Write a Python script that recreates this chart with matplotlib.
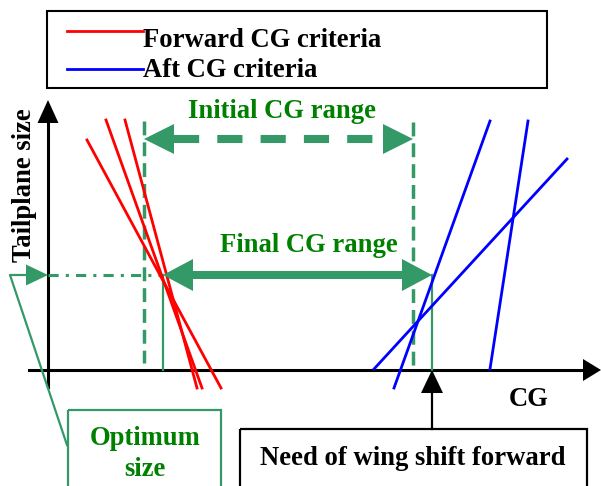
import matplotlib.pyplot as plt
from matplotlib.patches import Polygon, Rectangle

plt.rcParams['font.family'] = ['Liberation Serif', 'DejaVu Serif']
plt.rcParams['font.weight'] = 'bold'

# diagram geometry, in pixels of the 601x486 picture (y grows downwards)
fwd_lines = [((87, 140), (221, 388)),
             ((106, 120), (202, 388)),
             ((125, 120), (197, 388))]
aft_lines = [((374, 369), (567, 159)),
             ((394, 388), (490, 121)),
             ((490, 369), (528, 121))]
initial_range = (144, 413)
final_range = (163, 432)
initial_y = 139
final_y = 275
legend_labels = ['Forward CG criteria', 'Aft CG criteria']
legend_colors = ['#ff0000', '#0000ff']

green = '#339966'
tgreen = '#008000'
fs = 19.2

fig = plt.figure(figsize=(6.01, 4.86), dpi=100)
ax = fig.add_axes([0, 0, 1, 1])
ax.set_xlim(0, 601)
ax.set_ylim(486, 0)
ax.axis('off')


def head(tip, direction, length, half, color):
    x, y = tip
    if direction == 'left':
        pts = [(x, y), (x + length, y - half), (x + length, y + half)]
    elif direction == 'right':
        pts = [(x, y), (x - length, y - half), (x - length, y + half)]
    elif direction == 'up':
        pts = [(x, y), (x - half, y + length), (x + half, y + length)]
    ax.add_patch(Polygon(pts, closed=True, color=color, lw=0, zorder=5))


# legend box
ax.add_patch(Rectangle((47, 11), 500, 77, fill=False, ec='black', lw=1.5))
for i, (lab, col) in enumerate(zip(legend_labels, legend_colors)):
    ly = 31 + 38 * i
    ax.plot([67, 143], [ly, ly], color=col, lw=2)
    ax.text(143, 47 + 30 * i, lab, fontsize=fs, ha='left', va='baseline')

# axes
ax.plot([48, 48], [387, 121], color='black', lw=2.2)
head((48, 100), 'up', 23, 10.5, 'black')
ax.plot([29, 584], [370, 370], color='black', lw=2.2)
head((601, 370), 'right', 18, 11, 'black')
ax.text(25, 185, 'Tailplane size', fontsize=fs, rotation=90, ha='center', va='center')
ax.text(529, 406, 'CG', fontsize=fs, ha='center', va='baseline')

# criteria lines
for (p0, p1) in fwd_lines:
    ax.plot([p0[0], p1[0]], [p0[1], p1[1]], color='#ff0000', lw=2, zorder=3)
for (p0, p1) in aft_lines:
    ax.plot([p0[0], p1[0]], [p0[1], p1[1]], color='#0000ff', lw=2, zorder=3)

# initial CG range
a, b = initial_range
ax.plot([a, a], [121, 363], color=green, lw=2.5, dashes=(4, 2), solid_capstyle='butt', dash_capstyle='butt')
ax.plot([b, b], [122, 366], color=green, lw=2.5, dashes=(4, 2), dash_capstyle='butt')
ax.plot([a + 30, b - 30], [initial_y, initial_y], color=green, lw=5.8,
        dashes=(25 / 8, 18 / 8), dash_capstyle='butt')
head((a, initial_y), 'left', 30, 15, green)
head((b, initial_y), 'right', 30, 15, green)
ax.text((a + b) / 2 + 3, 118, 'Initial CG range', fontsize=fs, color=tgreen, ha='center', va='baseline')

# final CG range
a, b = final_range
ax.plot([a, a], [final_y, 370], color=green, lw=1.6)
ax.plot([b, b], [final_y, 370], color=green, lw=1.6)
ax.plot([a + 28, b - 28], [final_y, final_y], color=green, lw=5.8, solid_capstyle='butt')
head((a, final_y), 'left', 30, 16, green)
head((b, final_y), 'right', 30, 16, green)
ax.text(309, 252, 'Final CG range', fontsize=fs, color=tgreen, ha='center', va='baseline')
ax.plot([48, a], [final_y, final_y], color=green, lw=2.2, dashes=(10 / 3, 7 / 3, 1, 7 / 3), dash_capstyle='butt')

# optimum size callout
ax.plot([67, 10, 28], [445, final_y, final_y], color=green, lw=1.6)
head((48, final_y), 'right', 22, 10.5, green)
ax.add_patch(Rectangle((68, 410), 153, 90, fill=False, ec=green, lw=1.6))
ax.text(145, 445, 'Optimum', fontsize=fs, color=tgreen, ha='center', va='baseline')
ax.text(145, 476, 'size', fontsize=fs, color=tgreen, ha='center', va='baseline')

# wing shift callout
ax.plot([432, 432], [429, 392], color='black', lw=1.6)
head((432, 370), 'up', 23, 11, 'black')
ax.add_patch(Rectangle((240, 429), 347, 70, fill=False, ec='black', lw=1.6))
ax.text(413, 465, 'Need of wing shift forward', fontsize=fs, ha='center', va='baseline')

fig.savefig('out.png', dpi=100)
